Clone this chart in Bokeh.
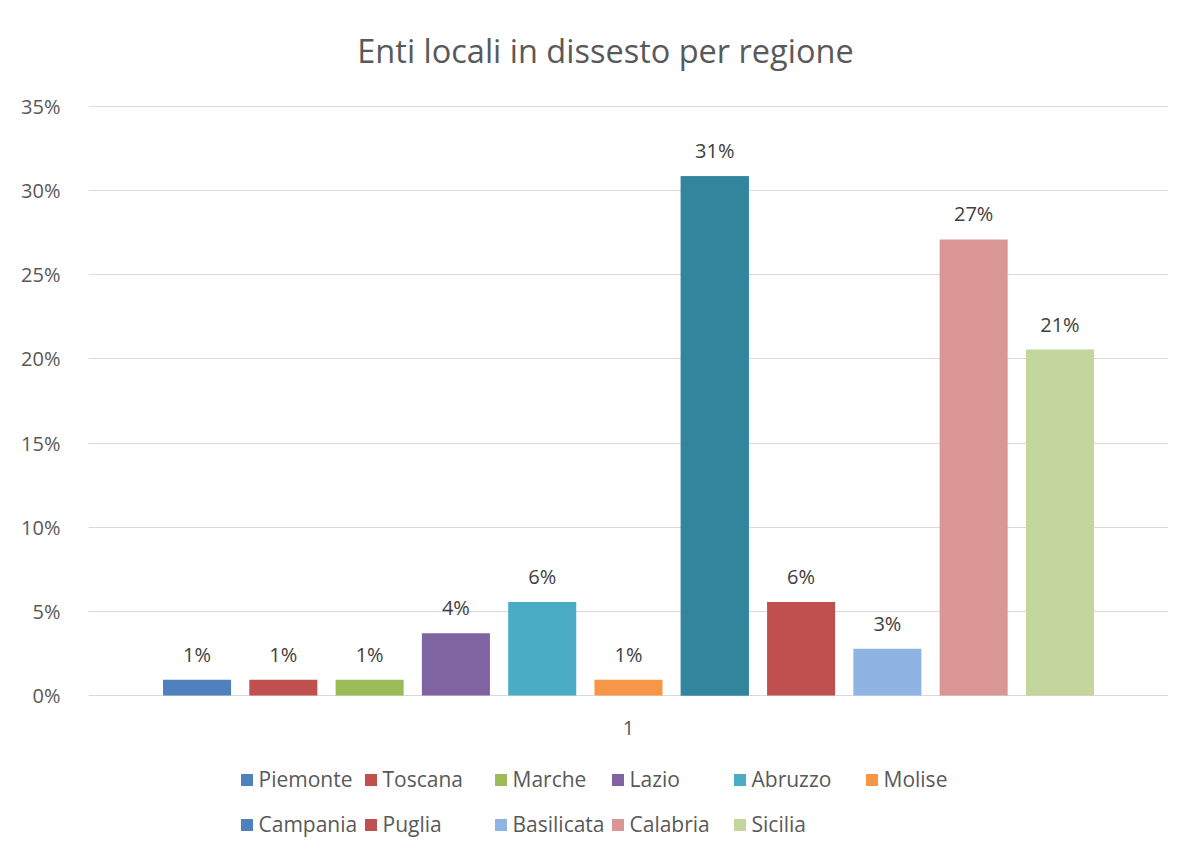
from bokeh.plotting import figure
from bokeh.models import (ColumnDataSource, FactorRange, Range1d, NumeralTickFormatter,
                          FixedTicker, LabelSet, Label, Legend, LegendItem)
from bokeh.transform import dodge
from bokeh.embed import file_html
from bokeh.resources import INLINE
from bokeh.core.properties import value

# ---- data ----
category = ["1"]
regions = ["Piemonte", "Toscana", "Marche", "Lazio", "Abruzzo", "Molise",
           "Campania", "Puglia", "Basilicata", "Calabria", "Sicilia"]
shares = [0.0093, 0.0093, 0.0093, 0.037, 0.0556, 0.0093,
          0.3086, 0.0556, 0.0278, 0.271, 0.2056]
bar_colors = ["#4F81BD", "#C0504D", "#9BBB59", "#8064A2", "#4BACC6", "#F79646",
              "#31859C", "#C0504D", "#8EB4E3", "#D99694", "#C3D69B"]
legend_colors = ["#4F81BD", "#C0504D", "#9BBB59", "#8064A2", "#4BACC6", "#F79646",
                 "#4F81BD", "#C0504D", "#8EB4E3", "#D99694", "#C3D69B"]
y_ticks = [0, 0.05, 0.10, 0.15, 0.20, 0.25, 0.30, 0.35]
title_text = "Enti locali in dissesto per regione"

FONT = "Open Sans"
GRAY = "#595959"

# ---- layout (pixels) ----
W, H = 1184, 845
LEFT, RIGHT = 88, 16
Y_TOP_PX, Y_ZERO_PX = 106, 695          # where 35% and 0% sit on the page
per_px = 0.35 / (Y_ZERO_PX - Y_TOP_PX)
y_hi = 0.35 + Y_TOP_PX * per_px
y_lo = -(H - Y_ZERO_PX) * per_px

p = figure(width=W, height=H, x_range=FactorRange(factors=category),
           y_range=Range1d(y_lo, y_hi), output_backend="svg", toolbar_location=None,
           min_border=0, min_border_left=LEFT, min_border_right=RIGHT,
           min_border_top=0, min_border_bottom=0)
p.title.text = ""
p.outline_line_color = None
p.background_fill_color = "white"
p.border_fill_color = "white"
p.xaxis.visible = False

p.yaxis.ticker = FixedTicker(ticks=y_ticks)
p.yaxis.formatter = NumeralTickFormatter(format="0%")
p.yaxis.axis_line_color = None
p.yaxis.major_tick_line_color = None
p.yaxis.minor_tick_line_color = None
p.yaxis.major_label_standoff = 22
p.yaxis.major_label_text_font = FONT
p.yaxis.major_label_text_font_size = "20px"
p.yaxis.major_label_text_color = GRAY

p.xgrid.grid_line_color = None
p.ygrid.ticker = FixedTicker(ticks=y_ticks)
p.ygrid.grid_line_color = "#D9D9D9"
p.ygrid.grid_line_width = 1

n = len(regions)
pitch = 0.0799
bar_w = 0.063

renderers = []
for i, (name, val, bc, lc) in enumerate(zip(regions, shares, bar_colors, legend_colors)):
    off = (i - (n - 1) / 2) * pitch
    src = ColumnDataSource(dict(cat=category, val=[val], lab=[f"{round(val * 100)}%"]))
    xs = dodge("cat", off, range=p.x_range)
    legend_r = p.vbar(x=xs, top="val", bottom=0, width=bar_w, source=src,
                      fill_color=lc, line_color=None)
    if lc != bc:
        p.vbar(x=xs, top="val", bottom=0, width=bar_w, source=src,
               fill_color=bc, line_color=None)
    renderers.append(legend_r)
    p.add_layout(LabelSet(x=xs, y="val", text="lab", source=src, text_align="center",
                          text_baseline="alphabetic", y_offset=18,
                          text_font=value(FONT), text_font_size="20px",
                          text_color="#404040"))

# title
p.add_layout(Label(x=605 - LEFT, y=H - 50, x_units="screen", y_units="screen",
                   text=title_text, text_align="center", text_baseline="alphabetic",
                   text_font=FONT, text_font_size="32.5px", text_color=GRAY))
# category label of the horizontal axis
p.add_layout(Label(x=628 - LEFT, y=H - 727, x_units="screen", y_units="screen",
                   text=category[0], text_align="center", text_baseline="middle",
                   text_font=FONT, text_font_size="20px", text_color=GRAY))

# legend: six columns, two rows
col_x = [240, 364, 494, 611, 733, 865]  # page x of square left edge
ROW_H, ROW_GAP = 30, 15
GLYPH = 15
legend_bottom = 839
for c in range(6):
    its = []
    for r in range(2):
        idx = r * 6 + c
        if idx < n:
            its.append(LegendItem(label=regions[idx], renderers=[renderers[idx]]))
    missing = 2 - len(its)
    leg = Legend(items=its, orientation="vertical",
                 location=(col_x[c] - 1.5 - LEFT,
                           H - legend_bottom + missing * (ROW_H + ROW_GAP)),
                 padding=0, margin=0, spacing=ROW_GAP,
                 glyph_width=GLYPH, glyph_height=GLYPH,
                 label_height=ROW_H, label_standoff=5,
                 label_text_font=FONT, label_text_font_size="21px",
                 label_text_color=GRAY, border_line_color=None,
                 background_fill_alpha=0)
    p.add_layout(leg, "center")

open("out.html", "w").write(file_html(p, INLINE))
